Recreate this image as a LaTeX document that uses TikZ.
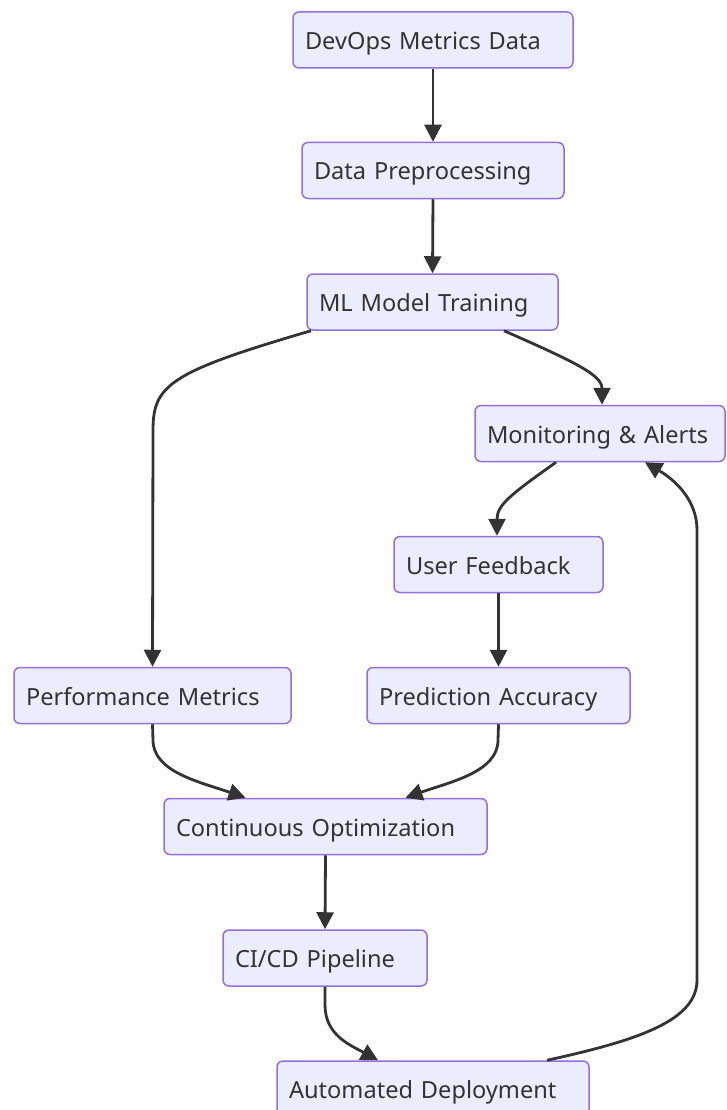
\documentclass[tikz,border=0pt]{standalone}
\usepackage{fontspec}
\setmainfont{Noto Sans}
\usetikzlibrary{arrows.meta}
\definecolor{boxfill}{HTML}{ECECFF}
\definecolor{boxline}{HTML}{9370DB}
\definecolor{ink}{HTML}{333333}
\begin{document}
\begin{tikzpicture}[x=1pt,y=-1pt,
  box/.style={draw=boxline, fill=boxfill, line width=1.5pt, rounded corners=6pt,
    minimum height=56pt, inner xsep=12pt, inner ysep=0pt, align=left,
    text height=21.5pt, text depth=2.5pt,
    text=ink, font=\fontsize{23.6}{27}\selectfont},
  conn/.style={draw=ink, line width=2.8pt, -{Triangle[length=17pt,width=17pt]}}]
\clip (0,0) rectangle (726,1110);
\fill[white] (0,0) rectangle (726,1110);
\node[box, text width=256pt] (dev) at (433,40) {DevOps Metrics Data};
\node[box, text width=238pt] (pre) at (433,170.5) {Data Preprocessing};
\node[box, text width=227pt] (ml) at (432.5,302) {ML Model Training};
\node[box, text width=226pt] (mon) at (600,433.5) {Monitoring \& Alerts};
\node[box, text width=185pt] (uf) at (498.5,564.5) {User Feedback};
\node[box, text width=253pt] (perf) at (152.5,695.5) {Performance Metrics};
\node[box, text width=239pt] (pred) at (498.5,695.5) {Prediction Accuracy};
\node[box, text width=299pt] (cont) at (325.5,826.5) {Continuous Optimization};
\node[box, text width=180pt] (cicd) at (325,958) {CI/CD Pipeline};
\node[box, text width=288pt] (auto) at (433,1089) {Automated Deployment};

\draw[conn] (dev.south) -- (pre.north);
\draw[conn] (pre.south) -- (ml.north);
\draw[conn] ([xshift=-121.5pt]ml.south) .. controls (170,372) and (153,385) .. (153,430) -- (perf.north);
\draw[conn] ([xshift=71.5pt]ml.south) .. controls (575,362) and (602,375) .. ([xshift=2pt]mon.north);
\draw[conn] ([xshift=-44pt]mon.south) .. controls (510,495) and (497,505) .. ([xshift=-1.5pt]uf.north);
\draw[conn] (uf.south) -- (pred.north);
\draw[conn] (perf.south) -- (153,740) .. controls (153,772) and (200,782) .. ([xshift=-80pt]cont.north);
\draw[conn] (pred.south) -- (498,740) .. controls (498,772) and (450,782) .. ([xshift=80pt]cont.north);
\draw[conn] (cont.south) -- (cicd.north);
\draw[conn] (cicd.south) -- (325,1005) .. controls (325,1035) and (350,1045) .. ([xshift=-55pt]auto.north);
\draw[conn] ([xshift=114pt]auto.north) .. controls (640,1040) and (697,1020) .. (697,980) -- (697,530) .. controls (697,500) and (675,480) .. ([xshift=45pt]mon.south);
\end{tikzpicture}
\end{document}
